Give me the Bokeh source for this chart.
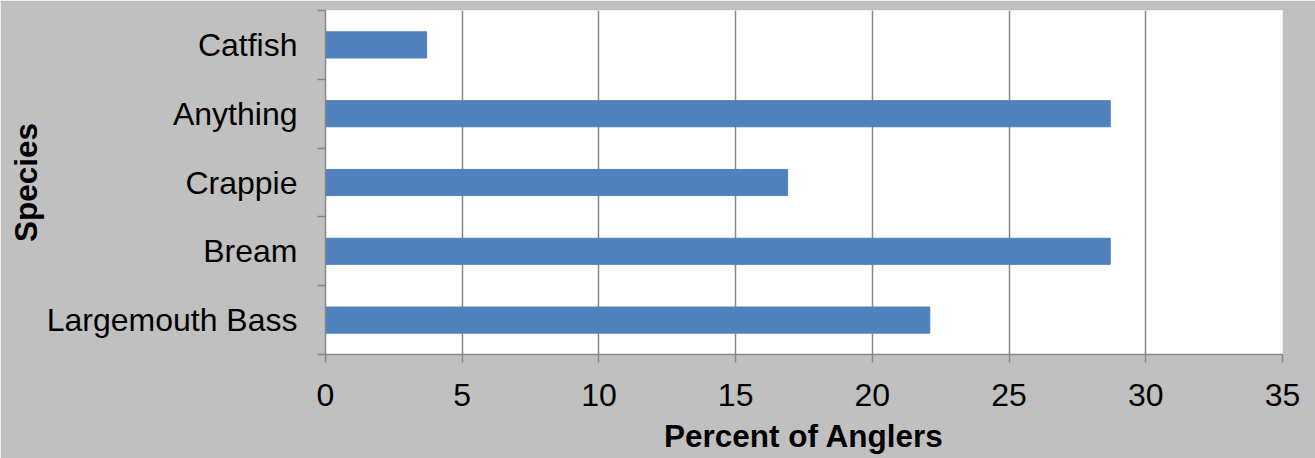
from bokeh.plotting import figure
from bokeh.models import FixedTicker, Range1d
from bokeh.embed import file_html
from bokeh.resources import INLINE

species = ["Largemouth Bass", "Bream", "Crappie", "Anything", "Catfish"]
percent = [22.1, 28.7, 16.9, 28.7, 3.7]
x_ticks = [0, 5, 10, 15, 20, 25, 30, 35]

ypos = [i + 0.5 for i in range(len(species))]

p = figure(width=1315, height=458, output_backend="svg", toolbar_location=None,
           x_range=Range1d(0, 35), y_range=Range1d(0, len(species)),
           min_border_left=325, min_border_right=33, min_border_top=10, min_border_bottom=104)

p.hbar(y=ypos, right=percent, left=0, height=0.38, color="#4f81bd", line_color="#4f81bd")

FONT = "Liberation Sans"
p.border_fill_color = "#c0c0c0"
p.background_fill_color = "white"
p.outline_line_color = None

p.xaxis.ticker = FixedTicker(ticks=x_ticks)
p.xaxis.axis_line_color = "#878787"
p.xaxis.axis_line_width = 1.5
p.xaxis.major_tick_line_color = "#878787"
p.xaxis.major_tick_line_width = 1.5
p.xaxis.major_tick_out = 8
p.xaxis.major_tick_in = 0
p.xaxis.minor_tick_line_color = None
p.xaxis.major_label_text_font = FONT
p.xaxis.major_label_text_font_size = "32px"
p.xaxis.major_label_text_color = "black"
p.xaxis.major_label_standoff = 21
p.xaxis.axis_label = "Percent of Anglers"
p.xaxis.axis_label_text_font = FONT
p.xaxis.axis_label_text_font_size = "31.5px"
p.xaxis.axis_label_text_font_style = "bold"
p.xaxis.axis_label_text_color = "black"
p.xaxis.axis_label_standoff = 9

p.yaxis.ticker = FixedTicker(ticks=ypos, minor_ticks=list(range(len(species) + 1)))
p.yaxis.major_label_overrides = {y: s for y, s in zip(ypos, species)}
p.yaxis.major_tick_line_color = None
p.yaxis.minor_tick_line_color = "#878787"
p.yaxis.minor_tick_line_width = 1.5
p.yaxis.minor_tick_out = 8
p.yaxis.minor_tick_in = 0
p.yaxis.axis_line_color = "#878787"
p.yaxis.axis_line_width = 1.5
p.yaxis.major_label_text_font = FONT
p.yaxis.major_label_text_font_size = "32px"
p.yaxis.major_label_text_color = "black"
p.yaxis.major_label_standoff = 20
p.yaxis.axis_label = "Species"
p.yaxis.axis_label_text_font = FONT
p.yaxis.axis_label_text_font_size = "31.5px"
p.yaxis.axis_label_text_font_style = "bold"
p.yaxis.axis_label_text_color = "black"
p.yaxis.axis_label_standoff = 0

p.xgrid.ticker = FixedTicker(ticks=x_ticks)
p.xgrid.grid_line_color = "#878787"
p.xgrid.grid_line_width = 1.5
p.ygrid.grid_line_color = None

open("out.html", "w").write(file_html(p, INLINE))
